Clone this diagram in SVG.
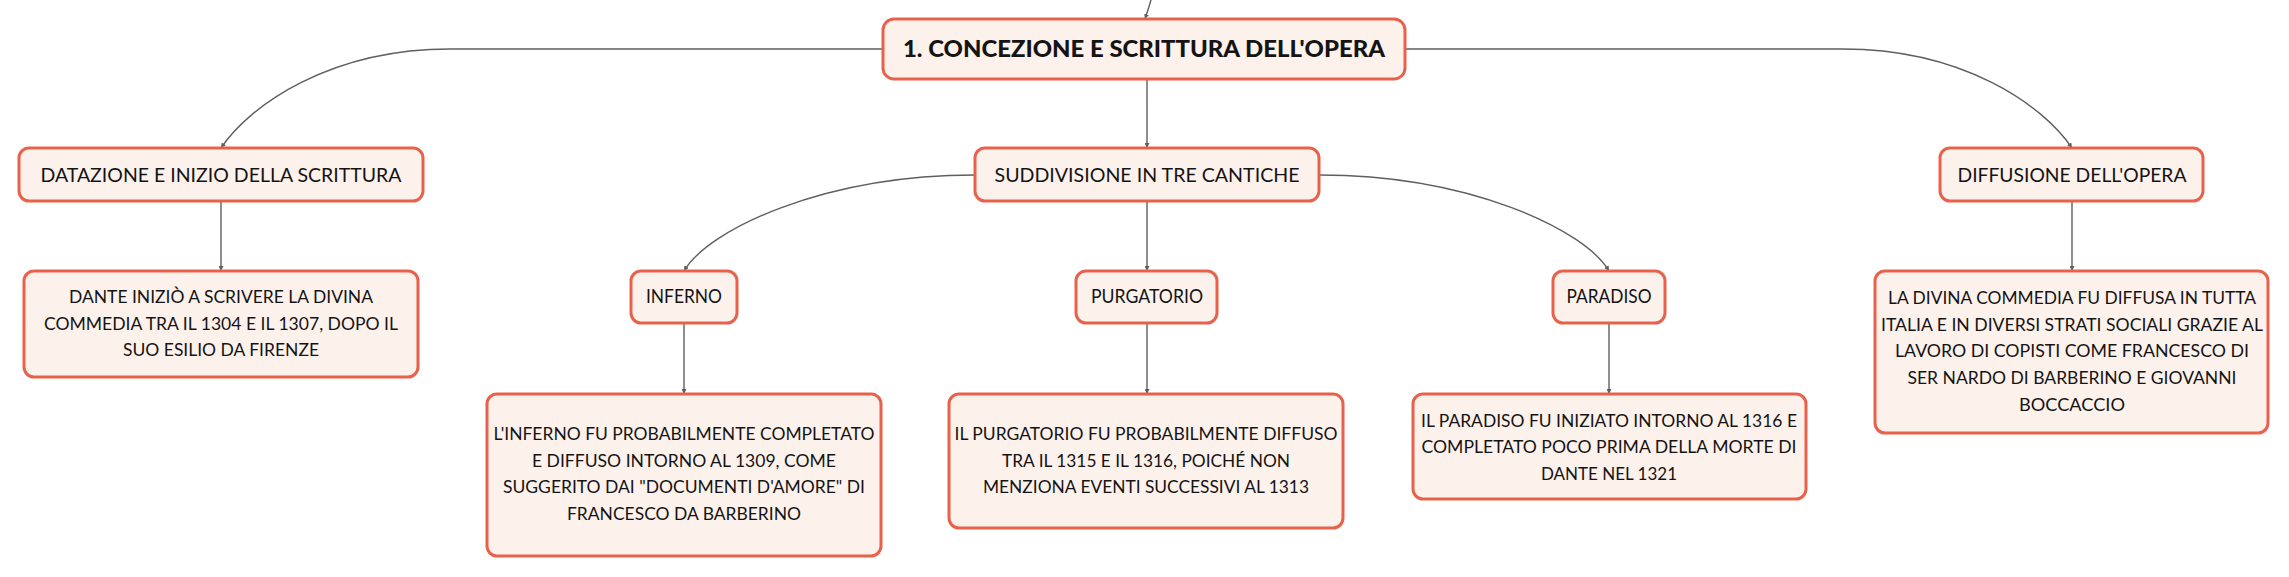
<svg xmlns="http://www.w3.org/2000/svg" width="2289" height="577" viewBox="0 0 2289 577">
<style>
.box{fill:#fdf1ec;stroke:#e8624b;stroke-width:3}
.conn{fill:none;stroke:#5f5f5f;stroke-width:1.4}
.t{font-family:Lato,"Noto Sans","Liberation Sans",sans-serif;fill:#141414;text-anchor:middle}
.lab{font-size:19px}
.body{font-size:16.5px}
.root{font-size:23px;font-weight:900}
</style>
<defs>
<marker id="arr" markerUnits="userSpaceOnUse" markerWidth="6" markerHeight="5" refX="5" refY="2.5" orient="auto">
<path d="M0,0 L5,2.5 L0,5 z" fill="#5f5f5f"/>
</marker>
</defs>
<rect width="2289" height="577" fill="#ffffff"/>
<g id="connectors">
<path class="conn" d="M1151,0 Q1148,10 1145,19" marker-end="url(#arr)"/>
<path class="conn" d="M883,49 H450 C330,49 250,105 221,148" marker-end="url(#arr)"/>
<path class="conn" d="M1405,49 H1843 C1963,49 2043,105 2072,148" marker-end="url(#arr)"/>
<path class="conn" d="M1147,79 V148" marker-end="url(#arr)"/>
<path class="conn" d="M975,175 C823,175 708,230 684,271" marker-end="url(#arr)"/>
<path class="conn" d="M1319,175 C1470,175 1585,230 1609,271" marker-end="url(#arr)"/>
<path class="conn" d="M1147,201 V271" marker-end="url(#arr)"/>
<path class="conn" d="M221,201 V271" marker-end="url(#arr)"/>
<path class="conn" d="M2072,201 V271" marker-end="url(#arr)"/>
<path class="conn" d="M684,323 V394" marker-end="url(#arr)"/>
<path class="conn" d="M1147,323 V394" marker-end="url(#arr)"/>
<path class="conn" d="M1609,323 V394" marker-end="url(#arr)"/>
</g>
<g id="root">
<rect class="box" x="883" y="19" width="522" height="60" rx="11"/>
<text class="t root" x="1144" y="57" textLength="482" lengthAdjust="spacingAndGlyphs">1. CONCEZIONE E SCRITTURA DELL'OPERA</text>
</g>
<g id="datazione">
<rect class="box" x="19" y="148" width="404" height="53" rx="10"/>
<text class="t lab" x="221" y="182" textLength="361" lengthAdjust="spacingAndGlyphs">DATAZIONE E INIZIO DELLA SCRITTURA</text>
</g>
<g id="datazione-testo">
<rect class="box" x="24" y="271" width="394" height="106" rx="10"/>
<text class="t body" x="221" y="303" textLength="304" lengthAdjust="spacingAndGlyphs">DANTE INIZIÒ A SCRIVERE LA DIVINA</text>
<text class="t body" x="221" y="330" textLength="354" lengthAdjust="spacingAndGlyphs">COMMEDIA TRA IL 1304 E IL 1307, DOPO IL</text>
<text class="t body" x="221" y="356" textLength="196" lengthAdjust="spacingAndGlyphs">SUO ESILIO DA FIRENZE</text>
</g>
<g id="suddivisione">
<rect class="box" x="975" y="148" width="344" height="53" rx="10"/>
<text class="t lab" x="1147" y="182" textLength="305" lengthAdjust="spacingAndGlyphs">SUDDIVISIONE IN TRE CANTICHE</text>
</g>
<g id="inferno">
<rect class="box" x="631" y="271" width="106" height="52" rx="10"/>
<text class="t lab" x="684" y="303" textLength="76" lengthAdjust="spacingAndGlyphs">INFERNO</text>
</g>
<g id="inferno-testo">
<rect class="box" x="487" y="394" width="394" height="162" rx="10"/>
<text class="t body" x="684" y="440" textLength="381" lengthAdjust="spacingAndGlyphs">L'INFERNO FU PROBABILMENTE COMPLETATO</text>
<text class="t body" x="684" y="467" textLength="304" lengthAdjust="spacingAndGlyphs">E DIFFUSO INTORNO AL 1309, COME</text>
<text class="t body" x="684" y="493" textLength="362" lengthAdjust="spacingAndGlyphs">SUGGERITO DAI "DOCUMENTI D'AMORE" DI</text>
<text class="t body" x="684" y="520" textLength="234" lengthAdjust="spacingAndGlyphs">FRANCESCO DA BARBERINO</text>
</g>
<g id="purgatorio">
<rect class="box" x="1076" y="271" width="141" height="52" rx="10"/>
<text class="t lab" x="1147" y="303" textLength="112" lengthAdjust="spacingAndGlyphs">PURGATORIO</text>
</g>
<g id="purgatorio-testo">
<rect class="box" x="949" y="394" width="394" height="134" rx="10"/>
<text class="t body" x="1146" y="440" textLength="383" lengthAdjust="spacingAndGlyphs">IL PURGATORIO FU PROBABILMENTE DIFFUSO</text>
<text class="t body" x="1146" y="467" textLength="288" lengthAdjust="spacingAndGlyphs">TRA IL 1315 E IL 1316, POICHÉ NON</text>
<text class="t body" x="1146" y="493" textLength="326" lengthAdjust="spacingAndGlyphs">MENZIONA EVENTI SUCCESSIVI AL 1313</text>
</g>
<g id="paradiso">
<rect class="box" x="1553" y="271" width="112" height="52" rx="10"/>
<text class="t lab" x="1609" y="303" textLength="85" lengthAdjust="spacingAndGlyphs">PARADISO</text>
</g>
<g id="paradiso-testo">
<rect class="box" x="1413" y="394" width="393" height="105" rx="10"/>
<text class="t body" x="1609" y="427" textLength="376" lengthAdjust="spacingAndGlyphs">IL PARADISO FU INIZIATO INTORNO AL 1316 E</text>
<text class="t body" x="1609" y="453" textLength="375" lengthAdjust="spacingAndGlyphs">COMPLETATO POCO PRIMA DELLA MORTE DI</text>
<text class="t body" x="1609" y="480" textLength="136" lengthAdjust="spacingAndGlyphs">DANTE NEL 1321</text>
</g>
<g id="diffusione">
<rect class="box" x="1940" y="148" width="263" height="53" rx="10"/>
<text class="t lab" x="2072" y="182" textLength="229" lengthAdjust="spacingAndGlyphs">DIFFUSIONE DELL'OPERA</text>
</g>
<g id="diffusione-testo">
<rect class="box" x="1875" y="271" width="393" height="162" rx="10"/>
<text class="t body" x="2072" y="304" textLength="368" lengthAdjust="spacingAndGlyphs">LA DIVINA COMMEDIA FU DIFFUSA IN TUTTA</text>
<text class="t body" x="2072" y="331" textLength="382" lengthAdjust="spacingAndGlyphs">ITALIA E IN DIVERSI STRATI SOCIALI GRAZIE AL</text>
<text class="t body" x="2072" y="357" textLength="354" lengthAdjust="spacingAndGlyphs">LAVORO DI COPISTI COME FRANCESCO DI</text>
<text class="t body" x="2072" y="384" textLength="329" lengthAdjust="spacingAndGlyphs">SER NARDO DI BARBERINO E GIOVANNI</text>
<text class="t body" x="2072" y="411" textLength="106" lengthAdjust="spacingAndGlyphs">BOCCACCIO</text>
</g>
</svg>
